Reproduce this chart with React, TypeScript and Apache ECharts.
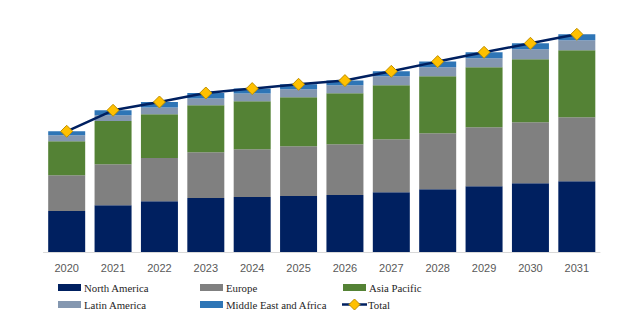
import React, { useEffect, useRef } from "react";
import * as echarts from "echarts";

const years = ["2020", "2021", "2022", "2023", "2024", "2025", "2026", "2027", "2028", "2029", "2030", "2031"];
const northAmerica = [41, 46.7, 50.7, 54, 55, 56, 57, 59.7, 62.7, 65.7, 68.7, 70.7];
const europe = [35.7, 41, 43.3, 45.7, 47.7, 49.7, 50.7, 53, 56, 59, 61, 64];
const asiaPacific = [34, 43.3, 43.7, 47, 48, 49, 51, 54, 57, 60, 63, 67];
const latinAmerica = [6, 5.7, 6.7, 6.7, 7.7, 8, 8, 9, 9, 9, 10, 10];
const middleEastAfrica = [4, 5, 5.6, 5.6, 5, 5, 4.7, 5, 5.7, 6, 6, 6];
const total = years.map((_, i) =>
  +(northAmerica[i] + europe[i] + asiaPacific[i] + latinAmerica[i] + middleEastAfrica[i]).toFixed(1)
);

const regionNames = ["North America", "Europe", "Asia Pacific", "Latin America", "Middle East and Africa"];
const regionColors = ["#002060", "#808080", "#548235", "#8497B0", "#2E75B6"];
const totalName = "Total";

export default function App() {
  const ref = useRef<HTMLDivElement>(null);
  useEffect(() => {
    if (!ref.current) return;
    const chart = echarts.init(ref.current, null, { renderer: "svg" });
    const regionData = [northAmerica, europe, asiaPacific, latinAmerica, middleEastAfrica];

    // legend drawn as graphic elements in a 3 x 2 layout
    const colX = [58, 200, 343];
    const rowY = [287.5, 304.5];
    const legendFont = "10.8px 'Liberation Serif', 'Times New Roman', serif";
    const legendItems: any[] = [];
    regionNames.forEach((name, i) => {
      const x = colX[i % 3];
      const y = rowY[Math.floor(i / 3)];
      legendItems.push({
        type: "rect",
        shape: { x, y: y - 3.5, width: 23, height: 7 },
        style: { fill: regionColors[i] },
      });
      legendItems.push({
        type: "text",
        x: x + 26,
        y,
        style: { text: name, font: legendFont, fill: "#262626", verticalAlign: "middle", align: "left" },
      });
    });
    {
      const x = colX[2] - 1;
      const y = rowY[1];
      legendItems.push({
        type: "line",
        shape: { x1: x, y1: y, x2: x + 25, y2: y },
        style: { stroke: "#002060", lineWidth: 2.5 },
      });
      legendItems.push({
        type: "polygon",
        shape: { points: [[x + 12.5, y - 5.5], [x + 18, y], [x + 12.5, y + 5.5], [x + 7, y]] },
        style: { fill: "#FFC000", stroke: "#BF9000", lineWidth: 1 },
      });
      legendItems.push({
        type: "text",
        x: colX[2] + 25,
        y,
        style: { text: totalName, font: legendFont, fill: "#262626", verticalAlign: "middle", align: "left" },
      });
    }

    chart.setOption({
      animation: false,
      grid: { left: 43.5, right: 21, top: 32, bottom: 70 },
      xAxis: {
        type: "category",
        data: years,
        axisLine: { lineStyle: { color: "#d9d9d9", width: 1 } },
        axisTick: { show: false },
        axisLabel: {
          color: "#595959",
          fontSize: 11,
          fontFamily: "Liberation Sans",
          margin: 10,
        },
      },
      yAxis: { type: "value", min: 0, max: 220, show: false, splitLine: { show: false } },
      graphic: legendItems,
      series: [
        ...regionNames.map((name, i) => ({
          name,
          type: "bar",
          stack: "total",
          data: regionData[i],
          barWidth: 37,
          itemStyle: { color: regionColors[i] },
        })),
        {
          name: totalName,
          type: "line",
          data: total,
          symbol: "diamond",
          symbolSize: 12,
          lineStyle: { color: "#002060", width: 2.5 },
          itemStyle: { color: "#FFC000", borderColor: "#BF9000", borderWidth: 1 },
          z: 10,
        },
      ],
    });
    return () => chart.dispose();
  }, []);
  return <div ref={ref} style={{ width: 621, height: 322, position: "absolute", left: 0, top: 0 }} />;
}
